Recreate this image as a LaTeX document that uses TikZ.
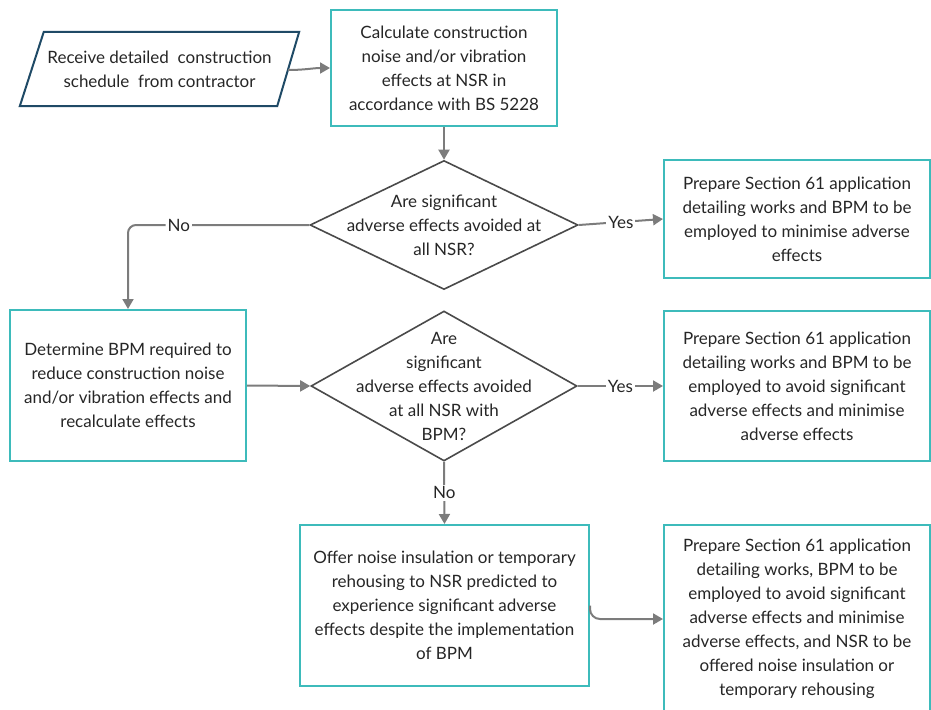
\documentclass[tikz,border=0pt]{standalone}
\usepackage{fontspec}
\setmainfont{Lato}
\usetikzlibrary{arrows.meta,shapes.geometric,calc}
\definecolor{tealb}{HTML}{3DBBBB}
\definecolor{navyb}{HTML}{1F4A66}
\definecolor{diab}{HTML}{4A4A4A}
\definecolor{arrc}{HTML}{7C7C7C}
\definecolor{txtc}{HTML}{262626}
\begin{document}
\begin{tikzpicture}[x=1pt,y=-1pt,
  every node/.style={font=\fontsize{17}{24}\selectfont, text=txtc},
  box/.style={draw=tealb, line width=2pt, align=center, inner sep=0pt},
  dmd/.style={diamond, draw=diab, line width=1.6pt, inner sep=0pt},
  txtnode/.style={align=center, inner sep=0pt},
  link/.style={draw=arrc, line width=2pt, -{Triangle[length=10pt,width=11pt]}},
  lbl/.style={fill=white, inner sep=2pt}
]
\clip (0,0) rectangle (931,709);

% start: parallelogram
\node[txtnode, minimum width=279, minimum height=74] (recv) at (159.5,69) {Receive detailed~ construction\\schedule~ from contractor};
\draw[navyb, line width=2pt] ($(recv.north west)+(24,0)$) -- (recv.north east) -- ($(recv.south east)+(-22,0)$) -- (recv.south west) -- cycle;
\coordinate (recvR) at ($(recv.east)+(-11,1)$);

\node[box, minimum width=226, minimum height=116] (calc) at (444,68) {Calculate construction\\noise and/or vibration\\effects at NSR in\\accordance with BS 5228};

\node[dmd, minimum width=268, minimum height=129] (q1) at (444,225) {};
\node[txtnode] (q1t) at (444,225) {Are significant\\adverse effects avoided at\\all NSR?};

\node[box, minimum width=266, minimum height=118] (s1) at (797,219) {Prepare Section 61 application\\detailing works and BPM to be\\employed to minimise adverse\\effects};

\node[box, minimum width=236, minimum height=151] (det) at (128,385.5) {Determine BPM required to\\reduce construction noise\\and/or vibration effects and\\recalculate effects};

\node[dmd, minimum width=266, minimum height=150] (q2) at (444,386) {};
\node[txtnode] (q2t) at (444,386.5) {Are\\significant\\adverse effects avoided\\at all NSR with\\BPM?};

\node[box, minimum width=266, minimum height=150] (s2) at (797,386) {Prepare Section 61 application\\detailing works and BPM to be\\employed to avoid significant\\adverse effects and minimise\\adverse effects};

\node[box, minimum width=289, minimum height=161] (off) at (444.5,605.5) {Offer noise insulation or temporary\\rehousing to NSR predicted to\\experience significant adverse\\effects despite the implementation\\of BPM};

\node[box, minimum width=266, minimum height=188] (s3) at (797,619) {Prepare Section 61 application\\detailing works, BPM to be\\employed to avoid significant\\adverse effects and minimise\\adverse effects, and NSR to be\\offered noise insulation or\\temporary rehousing};

% connectors
\draw[link] (recvR) to[out=0,in=180] (calc.west);
\draw[link] (calc.south) -- (q1.north);
\draw[link, rounded corners=8pt] (q1.west) -| node[lbl, pos=0.36] {No} (det.north);
\draw[link] (q1.east) -- node[lbl] {Yes} (s1.west);
\draw[link] (det.east) -- (q2.west);
\draw[link] (q2.east) -- node[lbl] {Yes} (s2.west);
\draw[link] (q2.south) -- node[lbl] {No} (off.north);
\draw[link, rounded corners=10pt] (off.east) |- (s3.west);
\end{tikzpicture}
\end{document}
